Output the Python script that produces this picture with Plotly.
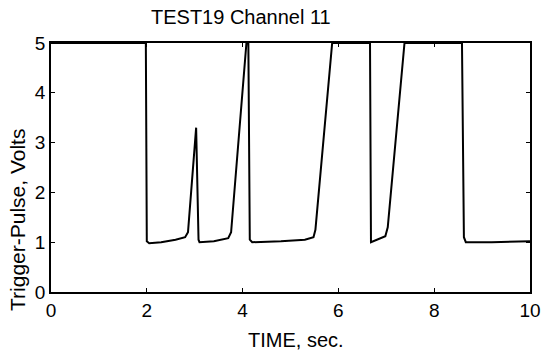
import plotly.graph_objects as go

# Waveform samples (time in s, voltage in V)
time_s = [0.0, 1.98, 2.0, 2.05, 2.3, 2.6, 2.8, 2.86, 3.03, 3.08, 3.1, 3.4, 3.7, 3.76,
          4.08, 4.12, 4.15, 4.2, 4.8, 5.3, 5.48, 5.52, 5.87, 6.66, 6.68, 6.8, 6.98,
          7.03, 7.38, 8.58, 8.62, 8.66, 9.2, 10.0]
volts = [5.0, 5.0, 1.02, 0.98, 1.0, 1.05, 1.1, 1.2, 3.3, 1.05, 1.0, 1.02, 1.08, 1.2,
         5.0, 5.0, 1.05, 1.0, 1.02, 1.05, 1.1, 1.25, 5.0, 5.0, 1.0, 1.05, 1.12,
         1.3, 5.0, 5.0, 1.1, 1.0, 1.0, 1.02]

x_ticks = [0, 2, 4, 6, 8, 10]
y_ticks = [0, 1, 2, 3, 4, 5]

title_text = "TEST19 Channel 11"
x_label = "TIME, sec."
y_label = "Trigger-Pulse, Volts"

FONT = "Liberation Sans, Arial, sans-serif"

fig = go.Figure()
fig.add_trace(go.Scatter(x=time_s, y=volts, mode="lines",
                         line=dict(color="black", width=2), cliponaxis=False,
                         showlegend=False, hoverinfo="skip"))

W, H = 547, 354
L, R, T, B = 51, 17, 43, 62
pw, ph = W - L - R, H - T - B


def px(X):
    return (X - L) / pw


def py(Y):
    return 1 - (Y - T) / ph


axis_common = dict(showline=True, linecolor="black", linewidth=1.5, mirror="ticks",
                   ticks="inside", ticklen=4, tickwidth=1, tickcolor="black",
                   showgrid=False, zeroline=False, automargin=False,
                   tickfont=dict(family=FONT, size=19, color="black"))

fig.update_layout(
    width=W, height=H,
    margin=dict(l=L, r=R, t=T, b=B),
    paper_bgcolor="white", plot_bgcolor="white",
    xaxis=dict(range=[0, 10], tickvals=x_ticks, ticktext=[str(v) for v in x_ticks], **axis_common),
    yaxis=dict(range=[0, 5], tickvals=y_ticks, ticktext=[str(v) for v in y_ticks], **axis_common),
    annotations=[
        dict(text=title_text, x=px(241), y=py(17), xref="paper", yref="paper",
             showarrow=False, xanchor="center", yanchor="middle",
             font=dict(family=FONT, size=20, color="black")),
        dict(text=x_label, x=px(296), y=py(340), xref="paper", yref="paper",
             showarrow=False, xanchor="center", yanchor="middle",
             font=dict(family=FONT, size=20, color="black")),
        dict(text=y_label, x=px(17), y=py(220), xref="paper", yref="paper",
             showarrow=False, xanchor="center", yanchor="middle", textangle=-90,
             font=dict(family=FONT, size=21, color="black")),
    ],
)

fig.write_html("out.html", config={"displayModeBar": False},
               post_script="document.body.style.margin='0';document.body.style.padding='0';")
